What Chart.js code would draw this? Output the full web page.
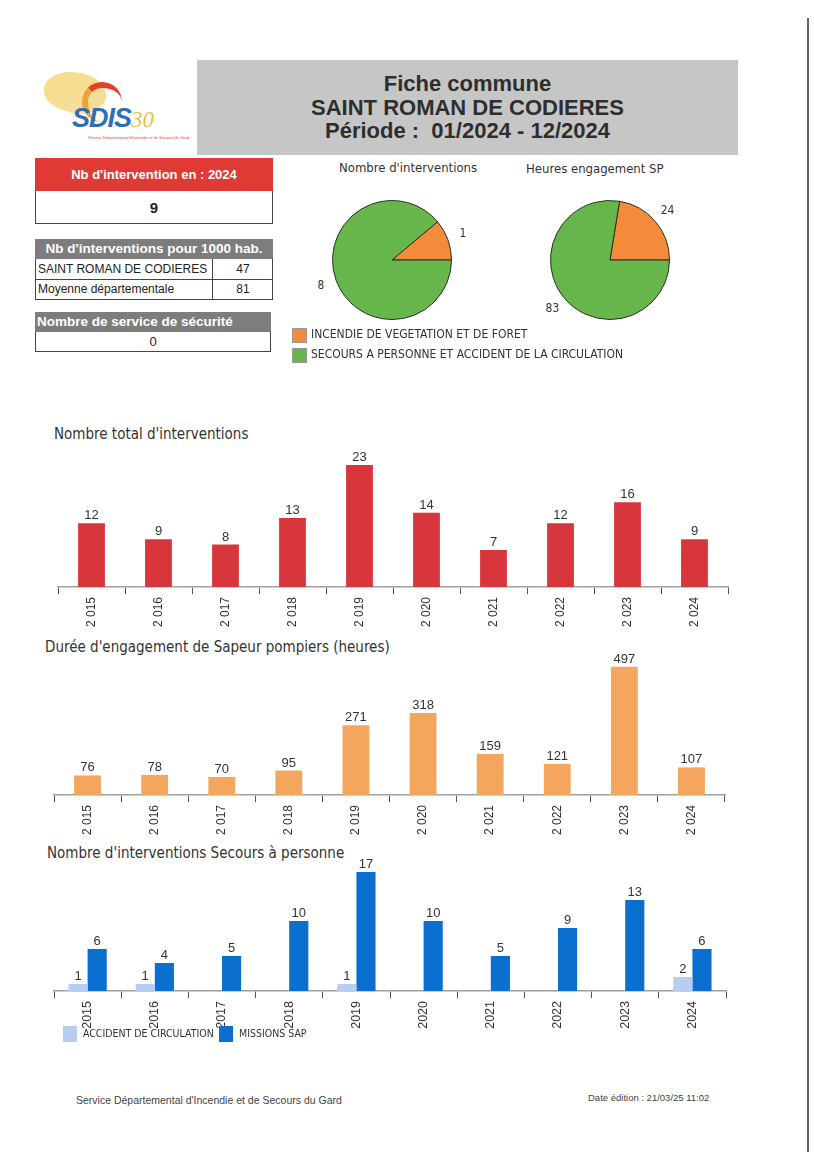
<!DOCTYPE html>
<html lang="fr">
<head>
<meta charset="utf-8">
<title>Fiche commune</title>
<script src="https://cdn.jsdelivr.net/npm/chart.js@4.4.1/dist/chart.umd.min.js"></script>
<style>
  body { margin: 0; background: #fff; }
  #page { position: relative; width: 814px; height: 1152px; overflow: hidden; font-family: "Liberation Sans", Arial, sans-serif; color: #222; }
  .abs { position: absolute; }
  .head { left: 197px; top: 60px; width: 541px; height: 95px; background: #c6c6c6; text-align: center;
          font-weight: bold; font-size: 22px; line-height: 23.5px; color: #2e2e2e; padding-top: 12px; box-sizing: border-box; }
  .box { border: 1px solid #444; box-sizing: border-box; }
  .t-title { font-family: "DejaVu Sans Condensed", "Liberation Sans", sans-serif; font-size: 15px; color: #333; white-space: nowrap; }
  .p-title { font-family: "DejaVu Sans Condensed", "Liberation Sans", sans-serif; font-size: 13px; color: #333; white-space: nowrap; }
  .leg { font-family: "DejaVu Sans Condensed", "Liberation Sans", sans-serif; font-size: 12px; color: #333; white-space: nowrap; }
  .sw { position: absolute; width: 15px; height: 15px; box-sizing: border-box; border: 1px solid #bbb; }
  canvas { position: absolute; }
</style>
</head>
<body>
<div id="page">

  <!-- logo -->
  <div class="abs" style="left:44px;top:72px;width:62px;height:40px;background:#f6d77a;border-radius:45% 60% 40% 55%;opacity:.85;"></div>
  <div class="abs" style="left:60px;top:92px;width:40px;height:22px;background:#f3df9c;border-radius:50%;opacity:.8;"></div>
  <div class="abs" style="left:82px;top:82px;width:34px;height:34px;border-top:6px solid #e2402e;border-left:6px solid #f0a23a;border-radius:50%;"></div>
  <div class="abs" style="left:72px;top:103px;font:italic bold 27px 'Liberation Sans',sans-serif;color:#2c6fb7;letter-spacing:-1px;">SDIS<span style="font:italic 23px 'Liberation Serif',serif;color:#e6c34c;letter-spacing:0;">30</span></div>
  <div class="abs" style="left:88px;top:135px;font-size:8px;color:#d9453a;transform:scale(.5);transform-origin:0 0;white-space:nowrap;">Service Départemental d'Incendie et de Secours du Gard</div>

  <!-- header -->
  <div class="abs head">Fiche commune<br>SAINT ROMAN DE CODIERES<br>Période :&nbsp; 01/2024 - 12/2024</div>

  <!-- nb intervention -->
  <div class="abs box" style="left:35px;top:158px;width:238px;height:66px;"></div>
  <div class="abs" style="left:35px;top:158px;width:238px;height:33px;background:#e13a35;color:#fff;font-weight:bold;font-size:13px;line-height:33px;text-align:center;">Nb d'intervention en : 2024</div>
  <div class="abs" style="left:35px;top:191px;width:238px;height:33px;font-weight:bold;font-size:15px;line-height:33px;text-align:center;color:#222;">9</div>

  <!-- pour 1000 hab -->
  <div class="abs box" style="left:35px;top:239px;width:238px;height:61px;"></div>
  <div class="abs" style="left:35px;top:239px;width:238px;height:20px;background:#7d7d7d;color:#fff;font-weight:bold;font-size:13.5px;line-height:20px;text-align:center;">Nb d'interventions pour 1000 hab.</div>
  <div class="abs" style="left:35px;top:279px;width:238px;height:1px;background:#444;"></div>
  <div class="abs" style="left:212px;top:259px;width:1px;height:41px;background:#444;"></div>
  <div class="abs" style="left:38px;top:259px;font-size:12px;line-height:20px;">SAINT ROMAN DE CODIERES</div>
  <div class="abs" style="left:213px;top:259px;width:60px;text-align:center;font-size:12px;line-height:20px;">47</div>
  <div class="abs" style="left:38px;top:279px;font-size:12px;line-height:20px;">Moyenne départementale</div>
  <div class="abs" style="left:213px;top:279px;width:60px;text-align:center;font-size:12px;line-height:20px;">81</div>

  <!-- service de securite -->
  <div class="abs box" style="left:35px;top:312px;width:236px;height:40px;"></div>
  <div class="abs" style="left:35px;top:312px;width:236px;height:20px;background:#7d7d7d;color:#fff;font-weight:bold;font-size:13.5px;line-height:20px;padding-left:2px;box-sizing:border-box;">Nombre de service de sécurité</div>
  <div class="abs" style="left:35px;top:332px;width:236px;height:20px;text-align:center;font-size:13px;line-height:20px;">0</div>

  <!-- pies -->
  <div class="abs p-title" style="left:339px;top:160px;">Nombre d'interventions</div>
  <div class="abs p-title" style="left:526px;top:161px;">Heures engagement SP</div>
  <canvas id="pie1" style="left:302px;top:185px;width:180px;height:150px;"></canvas>
  <canvas id="pie2" style="left:520px;top:185px;width:180px;height:150px;"></canvas>
  <div id="pieLegend"></div>

  <!-- bar charts -->
  <div class="abs t-title" style="left:54px;top:425px;">Nombre total d'interventions</div>
  <canvas id="bar1" style="left:48px;top:437px;width:690px;height:190px;"></canvas>

  <div class="abs t-title" style="left:45px;top:638px;">Durée d'engagement de Sapeur pompiers (heures)</div>
  <canvas id="bar2" style="left:44px;top:645px;width:691px;height:190px;"></canvas>

  <div class="abs t-title" style="left:47px;top:844px;">Nombre d'interventions Secours à personne</div>
  <canvas id="bar3" style="left:44px;top:850px;width:692px;height:181px;"></canvas>
  <div id="sapLegend"></div>

  <!-- footer -->
  <div class="abs" style="left:76px;top:1094px;font-size:10.5px;color:#444;">Service Départemental d'Incendie et de Secours du Gard</div>
  <div class="abs" style="left:588px;top:1092px;font-size:9.5px;color:#444;">Date édition : 21/03/25 11:02</div>

  <div class="abs" style="left:807px;top:18px;width:1.5px;height:1134px;background:#666;"></div>
</div>

<script>
"use strict";

// ---- data ----
const years = ['2015', '2016', '2017', '2018', '2019', '2020', '2021', '2022', '2023', '2024'];
const yearTicksSpaced = ['2 015', '2 016', '2 017', '2 018', '2 019', '2 020', '2 021', '2 022', '2 023', '2 024'];
const totalInterventions = [12, 9, 8, 13, 23, 14, 7, 12, 16, 9];
const heuresSP = [76, 78, 70, 95, 271, 318, 159, 121, 497, 107];
const accidentCirculation = [1, 1, 0, 0, 1, 0, 0, 0, 0, 2];
const missionsSAP = [6, 4, 5, 10, 17, 10, 5, 9, 13, 6];
const sapSeries = ['ACCIDENT DE CIRCULATION', 'MISSIONS SAP'];

const pieCategories = ['INCENDIE DE VEGETATION ET DE FORET', 'SECOURS A PERSONNE ET ACCIDENT DE LA CIRCULATION'];
const pieInterventions = [1, 8];
const pieHeures = [24, 83];

const pieColors = ['#f48b3a', '#66b64c'];
const sapColors = ['#b7cdf2', '#0b6fcf'];

// ---- plugins ----
const valueLabels = {
    id: 'valueLabels',
    afterDatasetsDraw(chart) {
        let ctx = chart.ctx;
        ctx.save();
        ctx.font = '13px "Liberation Sans", Arial, sans-serif';
        ctx.fillStyle = '#333';
        ctx.textAlign = 'center';
        ctx.textBaseline = 'bottom';
        chart.data.datasets.forEach(function(ds, i) {
            chart.getDatasetMeta(i).data.forEach(function(bar, j) {
                if (ds.data[j] > 0) {
                    ctx.fillText(ds.data[j], bar.x, bar.y - 1);
                }
            });
        });
        ctx.restore();
    }
};

const pieLabels = {
    id: 'pieLabels',
    afterDatasetsDraw(chart) {
        let ctx = chart.ctx;
        ctx.save();
        ctx.font = '12px "DejaVu Sans Condensed", sans-serif';
        ctx.fillStyle = '#333';
        ctx.textAlign = 'center';
        ctx.textBaseline = 'middle';
        let ds = chart.data.datasets[0];
        chart.getDatasetMeta(0).data.forEach(function(arc, j) {
            let mid = (arc.startAngle + arc.endAngle) / 2;
            let r = arc.outerRadius + 16;
            ctx.fillText(ds.data[j], arc.x + Math.cos(mid) * r, arc.y + Math.sin(mid) * r);
        });
        ctx.restore();
    }
};

// ---- pies ----
function makePie(id, values) {
    let total = values[0] + values[1];
    return new Chart(document.getElementById(id), {
        type: 'pie',
        data: {
            labels: pieCategories,
            datasets: [{
                data: values,
                backgroundColor: pieColors,
                borderColor: '#27331f',
                borderWidth: 1
            }]
        },
        options: {
            responsive: false,
            animation: false,
            // first slice ends at 3 o'clock, going clockwise from above
            rotation: 90 - 360 * values[0] / total,
            layout: { padding: { left: 30, right: 30, top: 15, bottom: 15 } },
            plugins: { legend: { display: false }, tooltip: { enabled: false } }
        },
        plugins: [pieLabels]
    });
}

function sizeCanvas(id) {
    let c = document.getElementById(id);
    c.width = parseFloat(c.style.width);
    c.height = parseFloat(c.style.height);
}

['pie1', 'pie2', 'bar1', 'bar2', 'bar3'].forEach(sizeCanvas);

makePie('pie1', pieInterventions);
makePie('pie2', pieHeures);

// legend for the pies
let pl = document.getElementById('pieLegend');
pieCategories.forEach(function(name, i) {
    let y = 328 + i * 20;
    pl.insertAdjacentHTML('beforeend',
        '<div class="sw" style="left:292px;top:' + y + 'px;background:' + pieColors[i] + ';border-color:#999;"></div>' +
        '<div class="abs leg" style="left:311px;top:' + (y - 1) + 'px;">' + name + '</div>');
});

// ---- bars ----
function xAxis(tickLabels, fontSize) {
    return {
        type: 'category',
        offset: true,
        grid: { offset: true, drawOnChartArea: false, drawTicks: true, tickLength: 7, color: '#555', lineWidth: 1 },
        border: { display: true, color: '#a0a0a0', width: 1.5 },
        ticks: {
            minRotation: 90, maxRotation: 90, padding: 3,
            color: '#333',
            font: { family: '"Liberation Sans", Arial, sans-serif', size: fontSize },
            callback: function(v, i) { return tickLabels[i]; }
        },
        afterFit: function(scale) { scale.height = 40; }
    };
}

function makeBars(id, labels, tickLabels, datasets, yMax, fontSize, catPct) {
    return new Chart(document.getElementById(id), {
        type: 'bar',
        data: { labels: labels, datasets: datasets },
        options: {
            responsive: false,
            animation: false,
            layout: { padding: { left: 10, right: 10, top: 10, bottom: 0 } },
            datasets: { bar: { categoryPercentage: catPct, barPercentage: 1 } },
            scales: {
                x: xAxis(tickLabels, fontSize),
                y: { display: false, min: 0, max: yMax }
            },
            plugins: { legend: { display: false }, tooltip: { enabled: false } }
        },
        plugins: [valueLabels]
    });
}

makeBars('bar1', years, yearTicksSpaced,
    [{ label: 'Interventions', data: totalInterventions, backgroundColor: '#d8363d' }],
    26.4, 12, 0.4);

makeBars('bar2', years, yearTicksSpaced,
    [{ label: 'Heures', data: heuresSP, backgroundColor: '#f5a65e' }],
    543, 12, 0.4);

makeBars('bar3', years, years,
    [
        { label: sapSeries[0], data: accidentCirculation, backgroundColor: sapColors[0] },
        { label: sapSeries[1], data: missionsSAP, backgroundColor: sapColors[1] }
    ],
    18.7, 12.5, 0.57);

// legend for the SAP chart
let sl = document.getElementById('sapLegend');
let legX = [63, 219];
sapSeries.forEach(function(name, i) {
    sl.insertAdjacentHTML('beforeend',
        '<div class="sw" style="left:' + legX[i] + 'px;top:1026px;width:14px;height:16px;border:none;background:' + sapColors[i] + ';"></div>' +
        '<div class="abs leg" style="left:' + (legX[i] + 20) + 'px;top:1027px;font-size:10.5px;">' + name + '</div>');
});
</script>
</body>
</html>
